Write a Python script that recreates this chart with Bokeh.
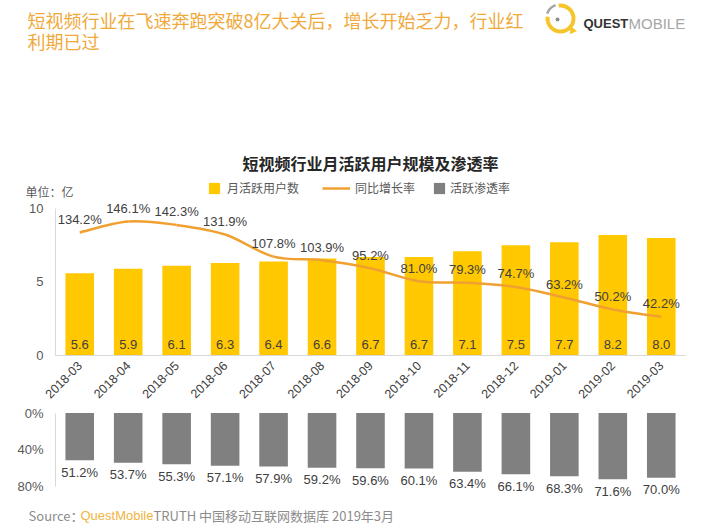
import math
from bokeh.plotting import figure
from bokeh.models import (ColumnDataSource, FactorRange, Range1d, FixedTicker, LabelSet, Label,
                          Legend, LegendItem, PrintfTickFormatter)
from bokeh.layouts import column
from bokeh.core.properties import value
from bokeh.embed import file_html
from bokeh.resources import INLINE

# ---------------- data ----------------
months = ["2018-03", "2018-04", "2018-05", "2018-06", "2018-07", "2018-08", "2018-09",
          "2018-10", "2018-11", "2018-12", "2019-01", "2019-02", "2019-03"]
mau = [5.6, 5.9, 6.1, 6.3, 6.4, 6.6, 6.7, 6.7, 7.1, 7.5, 7.7, 8.2, 8.0]          # 月活跃用户数 (亿)
yoy = [134.2, 146.1, 142.3, 131.9, 107.8, 103.9, 95.2, 81.0, 79.3, 74.7, 63.2, 50.2, 42.2]  # 同比增长率 %
pen = [51.2, 53.7, 55.3, 57.1, 57.9, 59.2, 59.6, 60.1, 63.4, 66.1, 68.3, 71.6, 70.0]       # 活跃渗透率 %

title_lines = ["短视频行业在飞速奔跑突破8亿大关后，增长开始乏力，行业红", "利期已过"]
chart_title = "短视频行业月活跃用户规模及渗透率"
unit_text = "单位：亿"
legend_labels = ["月活跃用户数", "同比增长率", "活跃渗透率"]
source_parts = ["Source：", "QuestMobile", "TRUTH 中国移动互联网数据库 2019年3月"]

CJK = "Noto Sans CJK SC"
NUM = "Liberation Sans"
YELLOW = "#FFC800"
ORANGE = "#F0A030"
GRAY = "#808080"
AXIS = "#D9D9D9"
TXT = "#404040"
W = 700

src = ColumnDataSource(dict(
    month=months, mau=mau, yoy=yoy, pen=pen,
    mau_label=[f"{v:.1f}" for v in mau],
    yoy_label=[f"{v:.1f}%" for v in yoy],
    pen_label=[f"{v:.1f}%" for v in pen],
))

# smooth curve through the yoy points (Catmull-Rom -> cubic bezier control points)
n = len(months)
seg = dict(x0=[], y0=[], x1=[], y1=[], cx0=[], cy0=[], cx1=[], cy1=[])
for i in range(n - 1):
    a = max(i - 1, 0)
    b = min(i + 2, n - 1)
    seg["x0"].append(months[i]); seg["y0"].append(yoy[i])
    seg["x1"].append(months[i + 1]); seg["y1"].append(yoy[i + 1])
    seg["cx0"].append((months[i], (i + 1 - a) / 6.0))
    seg["cy0"].append(yoy[i] + (yoy[i + 1] - yoy[a]) / 6.0)
    seg["cx1"].append((months[i + 1], -(b - i) / 6.0))
    seg["cy1"].append(yoy[i + 1] - (yoy[b] - yoy[i]) / 6.0)
seg_src = ColumnDataSource(seg)

xr = FactorRange(*months)

def clabel(p, x, y, text, size, color, font=CJK, align="left", style="normal"):
    p.add_layout(Label(x=x, y=y, x_units="canvas", y_units="canvas", text=text,
                       text_font=font, text_font_size=size, text_color=color,
                       text_align=align, text_baseline="middle", text_font_style=style))

def bare(p):
    p.outline_line_color = None
    p.grid.visible = False

def no_align(p):
    try:
        p.frame_align = False
    except Exception:
        pass

# ---------------- header figure (titles, logo, legend) ----------------
H0 = 200
p0 = figure(width=W, height=H0, x_range=Range1d(0, W), y_range=Range1d(0, H0),
            output_backend="svg", toolbar_location=None,
            x_axis_location=None, y_axis_location=None,
            min_border_left=0, min_border_right=0, min_border_top=0, min_border_bottom=0)
bare(p0)
no_align(p0)

clabel(p0, 27, 19.5, title_lines[0], "18px", "#F0A93B")
clabel(p0, 27, 40.5, title_lines[1], "18px", "#F0A93B")
# logo
p0.annular_wedge(x=[560], y=[H0 - 18], inner_radius=11, outer_radius=15,
                 start_angle=math.radians(172), end_angle=math.radians(98),
                 fill_color="#F5C52A", line_color=None)
p0.annular_wedge(x=[560], y=[H0 - 18], inner_radius=13, outer_radius=15.5,
                 start_angle=math.radians(110), end_angle=math.radians(160),
                 fill_color="#A6A6A6", line_color=None)
p0.scatter(x=[572], y=[H0 - 30], marker="triangle", size=8, angle=math.radians(25),
           fill_color="#F5C52A", line_color=None)
p0.scatter(x=[557], y=[H0 - 19], marker="circle", size=4,
           fill_color="#8C8C8C", line_color=None)
clabel(p0, 583, 23, "QUEST", "13px", "#333333", font=NUM, style="bold")
clabel(p0, 628, 23, "MOBILE", "15px", "#A6A6A6", font=NUM)
# chart title + unit
clabel(p0, 370, 162, chart_title, "16px", "#262626", align="center", style="bold")
clabel(p0, 25, 191, unit_text, "12px", "#595959")

# legend keys: same series, but drawn on this header's pixel scale they fall outside and
# stay invisible; they only give the legend its glyph styles
g_bar = p0.vbar(x="month", top="mau", width=0.59, source=src, fill_color=YELLOW, line_color=None)
g_line = p0.line(x="month", y="yoy", source=src, line_color=ORANGE, line_width=2.5)
g_pen = p0.vbar(x="month", top="pen", width=0.59, source=src, fill_color=GRAY, line_color=None)

def legend(item_label, rend, vx, gw, standoff):
    lg = Legend(items=[LegendItem(label=item_label, renderers=[rend])], location=(vx, 4),
                orientation="horizontal", glyph_width=gw, glyph_height=14, label_height=14,
                label_standoff=standoff, padding=0, margin=0, spacing=0,
                border_line_color=None, background_fill_alpha=0,
                label_text_font=CJK, label_text_font_size="12px", label_text_color="#595959")
    p0.add_layout(lg)

legend(legend_labels[0], g_bar, 207, 14, 6)
legend(legend_labels[1], g_line, 322, 28, 5)
legend(legend_labels[2], g_pen, 432, 14, 4)

# ---------------- top chart ----------------
p1 = figure(width=W, height=205, x_range=xr, y_range=Range1d(0, 10.544),
            output_backend="svg", toolbar_location=None,
            min_border_left=55, min_border_right=W - 685, min_border_top=0, min_border_bottom=50)
p1.extra_y_ranges = {"rate": Range1d(0, 169)}
bare(p1)

ya = p1.yaxis[0]
ya.ticker = FixedTicker(ticks=[0, 5, 10])
ya.bounds = (0, 10)
ya.axis_line_color = AXIS
ya.major_tick_line_color = None
ya.minor_tick_line_color = None
ya.major_tick_out = 0
ya.major_tick_in = 0
ya.major_label_text_font = NUM
ya.major_label_text_font_size = "13px"
ya.major_label_text_color = "#595959"
ya.major_label_standoff = 12

xa = p1.xaxis[0]
xa.axis_line_color = AXIS
xa.major_tick_line_color = None
xa.minor_tick_line_color = None
xa.major_tick_out = 0
xa.major_tick_in = 0
xa.major_label_orientation = math.pi / 4
xa.major_label_text_font = NUM
xa.major_label_text_font_size = "12.5px"
xa.major_label_text_color = TXT
xa.major_label_standoff = 8

p1.vbar(x="month", top="mau", width=0.59, source=src, fill_color=YELLOW, line_color=None)
p1.bezier(x0="x0", y0="y0", x1="x1", y1="y1", cx0="cx0", cy0="cy0", cx1="cx1", cy1="cy1",
          source=seg_src, y_range_name="rate", line_color=ORANGE, line_width=2.5)

p1.add_layout(LabelSet(x="month", y=0, text="mau_label", source=src, y_offset=11,
                       text_align="center", text_baseline="middle", text_font=value(NUM),
                       text_font_size="13px", text_color=TXT))
p1.add_layout(LabelSet(x="month", y="yoy", text="yoy_label", source=src, y_range_name="rate",
                       y_offset=13, text_align="center", text_baseline="middle",
                       text_font=value(NUM), text_font_size="13px", text_color=TXT))

# ---------------- bottom chart (penetration) ----------------
p2 = figure(width=W, height=95, x_range=xr, y_range=Range1d(94.6, -8.11),
            output_backend="svg", toolbar_location=None, x_axis_location=None,
            min_border_left=55, min_border_right=W - 685, min_border_top=0, min_border_bottom=0)
bare(p2)

ya2 = p2.yaxis[0]
ya2.ticker = FixedTicker(ticks=[0, 40, 80])
ya2.formatter = PrintfTickFormatter(format="%d%%")
ya2.bounds = (0, 80)
ya2.axis_line_color = AXIS
ya2.major_tick_line_color = None
ya2.minor_tick_line_color = None
ya2.major_tick_out = 0
ya2.major_tick_in = 0
ya2.major_label_text_font = NUM
ya2.major_label_text_font_size = "13px"
ya2.major_label_text_color = "#595959"
ya2.major_label_standoff = 12

p2.vbar(x="month", top=0, bottom="pen", width=0.59, source=src, fill_color=GRAY, line_color=None)
p2.add_layout(LabelSet(x="month", y="pen", text="pen_label", source=src, y_offset=-12,
                       text_align="center", text_baseline="middle", text_font=value(NUM),
                       text_font_size="13px", text_color=TXT))

# ---------------- footer ----------------
p3 = figure(width=W, height=30, x_range=Range1d(0, W), y_range=Range1d(0, 30),
            output_backend="svg", toolbar_location=None,
            x_axis_location=None, y_axis_location=None,
            min_border_left=0, min_border_right=0, min_border_top=0, min_border_bottom=0)
bare(p3)
no_align(p3)
clabel(p3, 28, 15, source_parts[0], "13px", "#8C8C8C")
clabel(p3, 80, 15, source_parts[1], "13px", "#F2B441", font=NUM)
clabel(p3, 153, 15, source_parts[2], "13px", "#8C8C8C")

layout = column(p0, p1, p2, p3)
open("out.html", "w").write(file_html(layout, INLINE))
